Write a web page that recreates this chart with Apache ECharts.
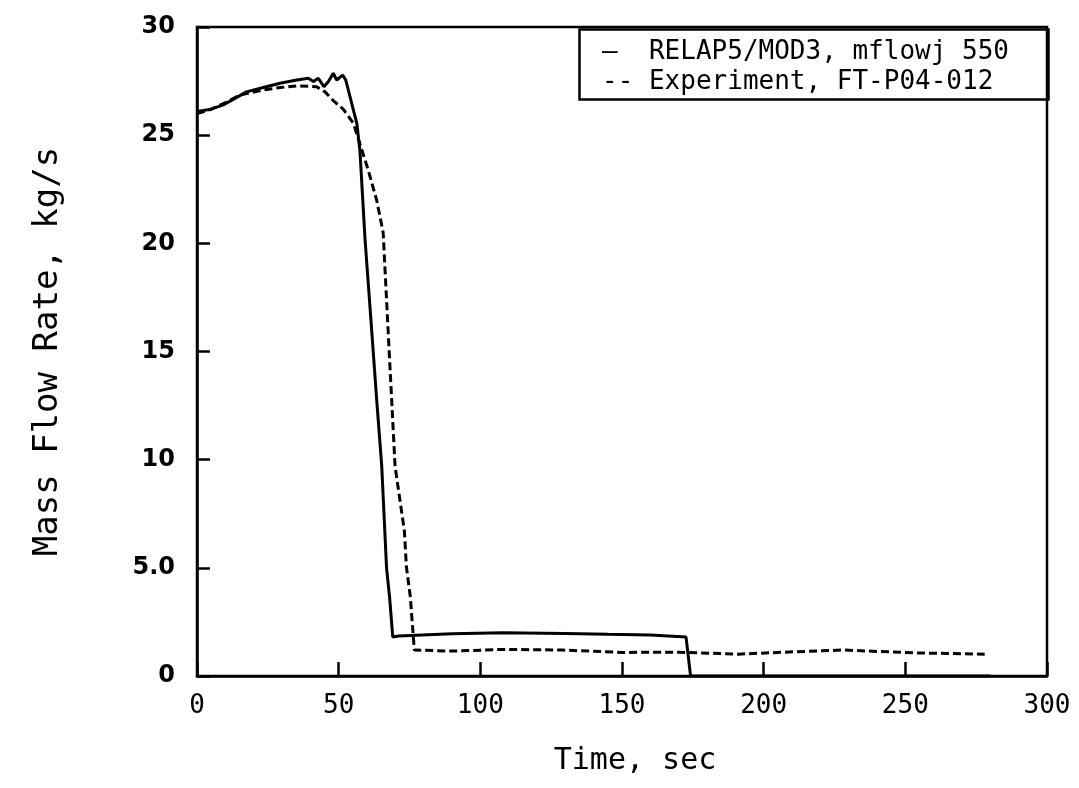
<!DOCTYPE html>
<html>
<head>
<meta charset="utf-8">
<script src="https://cdn.jsdelivr.net/npm/echarts@6/dist/echarts.min.js"></script>
<style>
html,body{margin:0;padding:0;background:#fff;}
#chart{width:1079px;height:788px;}
</style>
</head>
<body>
<div id="chart"></div>
<script>
// ---- data ----
const seriesNames = ['RELAP5/MOD3, mflowj 550', 'Experiment, FT-P04-012'];

const relapTime = [0, 5, 9.3, 17.5, 23.4, 29.3, 35.2, 39.3, 41.1, 42.8, 44.8, 46.4, 48.1, 49.3, 51.4, 52.5, 54, 56.4, 57.5, 59.3, 61.7, 63.4, 65.2, 66.9, 68, 69.1, 71.1, 90, 108, 130, 145, 160, 172.6, 174.2, 200, 250, 280];
const relapFlow = [26.1, 26.2, 26.4, 27.0, 27.2, 27.4, 27.55, 27.63, 27.48, 27.63, 27.24, 27.48, 27.86, 27.55, 27.78, 27.55, 26.78, 25.55, 24.3, 20.2, 15.9, 12.8, 9.7, 5.0, 3.6, 1.8, 1.85, 1.95, 2.0, 1.97, 1.93, 1.9, 1.8, 0, 0, 0, 0];

const expTime = [0, 5, 10, 15.2, 23.4, 29.3, 35.2, 42.2, 45.2, 48.1, 51.6, 55.2, 57.5, 60.4, 63.4, 65.7, 66.9, 68.1, 69.9, 73.2, 73.9, 75.3, 76.7, 77.3, 90, 108, 129, 150, 170, 191, 211, 228, 253, 278];
const expFlow = [26.0, 26.2, 26.5, 26.86, 27.09, 27.2, 27.28, 27.24, 27.0, 26.6, 26.2, 25.55, 24.6, 23.4, 22.0, 20.5, 17.4, 14.3, 9.7, 6.7, 5.05, 3.65, 1.2, 1.12, 1.15, 1.23, 1.2, 1.09, 1.1, 1.01, 1.12, 1.2, 1.07, 1.01];

const xTickLabels = ['0', '50', '100', '150', '200', '250', '300'];
const yTickLabels = ['0', '5.0', '10', '15', '20', '25', '30'];
const xTitle = 'Time, sec';
const yTitle = 'Mass Flow Rate, kg/s';

// ---- chart ----
const pairs = (xs, ys) => xs.map((x, i) => [x, ys[i]]);
const chart = echarts.init(document.getElementById('chart'), null, {renderer: 'canvas'});
const mono = 'DejaVu Sans Mono';

chart.setOption({
  animation: false,
  backgroundColor: '#ffffff',
  grid: {left: 197, right: 32, top: 27, bottom: 112, show: true, borderColor: '#000', borderWidth: 2.5, backgroundColor: 'transparent'},
  xAxis: {
    type: 'value', min: 0, max: 300, interval: 50,
    name: xTitle, nameLocation: 'middle', nameGap: 70,
    nameTextStyle: {fontFamily: mono, fontSize: 30, color: '#000', padding: [0, 0, 0, 26]},
    axisLine: {show: true, lineStyle: {color: '#000', width: 2.5}},
    axisTick: {show: true, inside: true, length: 14, lineStyle: {color: '#000', width: 2.5}},
    axisLabel: {margin: 17, fontFamily: mono, fontSize: 26, color: '#000',
      formatter: v => xTickLabels[Math.round(v / 50)]},
    splitLine: {show: false}
  },
  yAxis: {
    type: 'value', min: 0, max: 30, interval: 5,
    name: yTitle, nameLocation: 'middle', nameGap: 132, nameRotate: 90,
    nameTextStyle: {fontFamily: mono, fontSize: 34, color: '#000'},
    axisLine: {show: true, lineStyle: {color: '#000', width: 2.5}},
    axisTick: {show: true, inside: true, length: 13, lineStyle: {color: '#000', width: 2.5}},
    axisLabel: {margin: 22, fontFamily: 'DejaVu Sans', fontWeight: 'bold', fontSize: 24, color: '#000',
      formatter: v => yTickLabels[Math.round(v / 5)]},
    splitLine: {show: false}
  },
  legend: {
    orient: 'vertical', left: 592, top: 34, itemGap: 4,
    icon: 'none', itemWidth: 0, itemHeight: 0,
    textStyle: {fontFamily: mono, fontSize: 26, color: '#000'},
    formatter: name => (name === seriesNames[0] ? '\u2014  ' : '-- ') + name,
    data: seriesNames
  },
  graphic: [{
    type: 'rect', left: 577, top: 27, z: 100, silent: true,
    shape: {width: 469, height: 70},
    style: {fill: 'none', stroke: '#000', lineWidth: 2.5}
  }],
  series: [
    {name: seriesNames[0], type: 'line', data: pairs(relapTime, relapFlow), showSymbol: false, symbol: 'none',
     lineStyle: {color: '#000', width: 3}, itemStyle: {color: '#000'}, smooth: false},
    {name: seriesNames[1], type: 'line', data: pairs(expTime, expFlow), showSymbol: false, symbol: 'none',
     lineStyle: {color: '#000', width: 3, type: [8, 4]}, itemStyle: {color: '#000'}, smooth: false}
  ]
});
</script>
</body>
</html>
